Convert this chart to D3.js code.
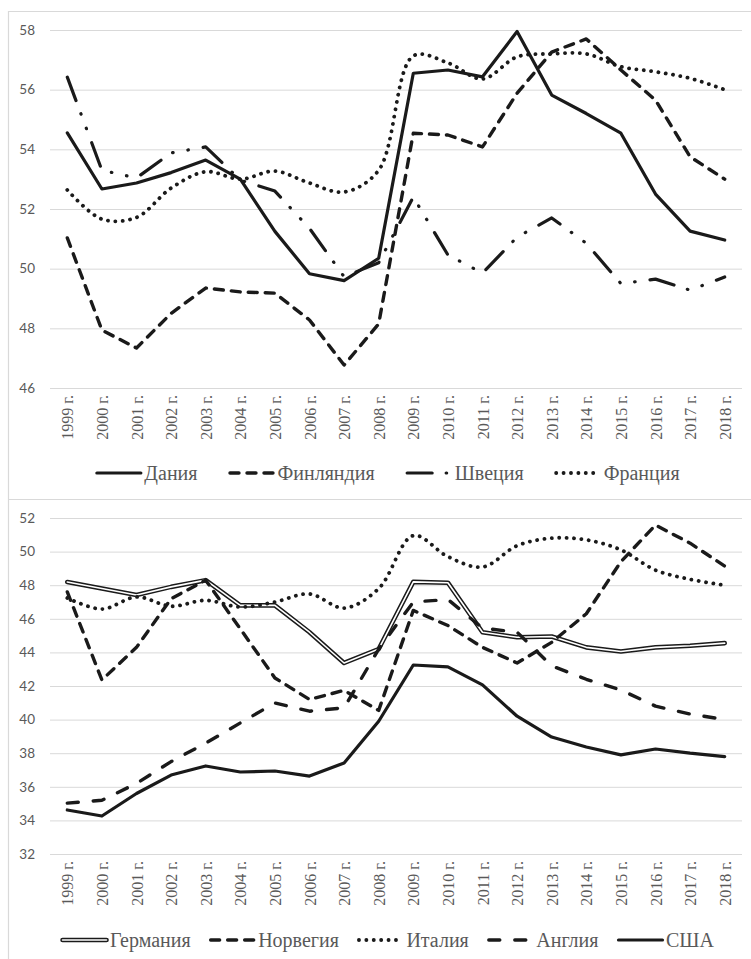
<!DOCTYPE html>
<html>
<head>
<meta charset="utf-8">
<script src="https://cdn.jsdelivr.net/npm/d3@7"></script>
<style>
body { margin: 0; background: #fff; }
svg { display: block; }
.grid line { stroke: #d9d9d9; stroke-width: 1; }
.grid .domain { display: none; }
.grid text { font-family: Lato, "Open Sans", sans-serif; font-size: 13.5px; fill: #595959; }
.xlab .domain { display: none; }
.xlab text { font-family: "Liberation Serif", "DejaVu Serif", serif; font-size: 16px; fill: #595959; }
.legend text { font-family: "Liberation Serif", "DejaVu Serif", serif; font-size: 20px; fill: #595959; }
</style>
</head>
<body>
<div class="chart"></div>
<script>
var years = ["1999 г.","2000 г.","2001 г.","2002 г.","2003 г.","2004 г.","2005 г.","2006 г.","2007 г.","2008 г.",
	"2009 г.","2010 г.","2011 г.","2012 г.","2013 г.","2014 г.","2015 г.","2016 г.","2017 г.","2018 г."];

// top panel
var denmark = [54.55,52.67,52.87,53.22,53.64,53.0,51.25,49.83,49.6,50.35,56.55,56.66,56.43,57.95,55.82,55.2,54.54,52.5,51.26,50.96];
var finland = [51.03,47.94,47.34,48.5,49.35,49.22,49.18,48.28,46.77,48.15,54.54,54.48,54.08,55.88,57.26,57.7,56.66,55.65,53.75,53.0];
var sweden = [56.42,53.3,53.04,53.88,54.08,52.97,52.6,51.35,49.73,50.2,52.4,50.46,49.85,51.06,51.7,50.85,49.5,49.65,49.28,49.72];
var france = [52.64,51.66,51.72,52.7,53.25,53.0,53.27,52.87,52.57,53.3,57.13,56.9,56.36,57.1,57.2,57.2,56.77,56.6,56.38,56.0];
var topTicks = [46,48,50,52,54,56,58];

// bottom panel
var germany = [48.19,47.8,47.42,47.9,48.3,46.8,46.8,45.2,43.37,44.2,48.2,48.15,45.2,44.9,44.95,44.3,44.05,44.3,44.4,44.55];
var norway = [47.6,42.36,44.3,47.2,48.3,45.4,42.48,41.2,41.74,40.55,46.5,45.6,44.3,43.37,44.6,46.3,49.4,51.58,50.5,49.14];
var italy = [47.24,46.58,47.3,46.75,47.1,46.7,47.0,47.48,46.64,47.8,50.95,49.7,49.08,50.35,50.8,50.7,50.1,48.9,48.35,48.0];
var uk = [35.03,35.2,36.2,37.5,38.6,39.8,40.99,40.5,40.7,44.2,47.0,47.15,45.45,45.2,43.2,42.4,41.76,40.8,40.33,40.0];
var usa = [34.62,34.26,35.6,36.7,37.24,36.88,36.94,36.64,37.42,39.9,43.25,43.14,42.07,40.2,38.96,38.37,37.9,38.25,38.0,37.8];
var bottomTicks = [32,34,36,38,40,42,44,46,48,50,52];

var styles = {
	solid: {dash: null, width: 3.2},
	dash: {dash: "9,8", width: 3.4},
	longdash: {dash: "11,15", width: 3.4},
	dashdot: {dash: "25,14,0.5,15,0.5,15", width: 3.2},
	dot: {dash: "0.1,7.3", width: 3.8, smooth: true},
	double: {dash: null, width: 4.6, double: true}
};

var topSeries = [
	{name: "Дания", values: denmark, style: "solid"},
	{name: "Финляндия", values: finland, style: "dash"},
	{name: "Швеция", values: sweden, style: "dashdot"},
	{name: "Франция", values: france, style: "dot"}
];
var bottomSeries = [
	{name: "Германия", values: germany, style: "double"},
	{name: "Норвегия", values: norway, style: "dash"},
	{name: "Италия", values: italy, style: "dot"},
	{name: "Англия", values: uk, style: "longdash"},
	{name: "США", values: usa, style: "solid"}
];

var W = 751, H = 959;
var svg = d3.select(".chart").append("svg").attr("width", W).attr("height", H);

// frames
svg.append("path")
	.attr("d", "M751,11.5H8.5V959M8.5,499.5H751")
	.attr("fill", "none").attr("stroke", "#d9d9d9").attr("stroke-width", 1.2);

var x = d3.scalePoint().domain(years).range([50, 742]).padding(0.5);

function styleLine(path, st, color) {
	path.attr("fill", "none")
		.attr("stroke", color)
		.attr("stroke-width", st.width)
		.attr("stroke-linecap", "round")
		.attr("stroke-linejoin", "round")
		.attr("stroke-dasharray", st.dash);
}

function drawPanel(series, ticks, yTop, yBottom, legendY, gap) {
	var y = d3.scaleLinear().domain(d3.extent(ticks)).range([yBottom, yTop]);
	var g = svg.append("g");

	g.append("g").attr("class", "grid")
		.attr("transform", "translate(50,0)")
		.call(d3.axisLeft(y).tickValues(ticks).tickSize(-692).tickPadding(15).tickFormat(d3.format("d")));

	var xa = g.append("g").attr("class", "xlab")
		.attr("transform", "translate(0," + yBottom + ")")
		.call(d3.axisBottom(x).tickSize(0));
	xa.selectAll("text")
		.attr("transform", "rotate(-90)")
		.attr("text-anchor", "end")
		.attr("x", -7)
		.attr("y", 0)
		.attr("dy", "0.35em");

	series.forEach(function(s) {
		var st = styles[s.style];
		var line = d3.line()
			.x(function(d, i) { return x(years[i]); })
			.y(function(d) { return y(d); })
			.curve(st.smooth ? d3.curveCatmullRom.alpha(0.5) : d3.curveLinear);
		styleLine(g.append("path").attr("d", line(s.values)), st, "#1a1a1a");
		if (st.double) {
			styleLine(g.append("path").attr("d", line(s.values)), {dash: null, width: 1.6}, "#fff");
		}
	});

	// legend
	var lg = g.append("g").attr("class", "legend");
	var items = lg.selectAll("g").data(series).enter().append("g");
	items.append("text")
		.attr("x", 49)
		.attr("dy", "0.35em")
		.text(function(d) { return d.name; });
	var offs = 0, pos = [];
	items.each(function(d) {
		pos.push(offs);
		offs += 49 + this.querySelector("text").getComputedTextLength() + gap;
	});
	var total = offs - gap;
	var start = 387.5 - total / 2;
	items.attr("transform", function(d, i) { return "translate(" + (start + pos[i]) + "," + legendY + ")"; });
	items.each(function(d) {
		var st = styles[d.style];
		var sel = d3.select(this);
		styleLine(sel.append("path").attr("d", "M1.5,0H45.5"), st, "#1a1a1a");
		if (st.double) styleLine(sel.append("path").attr("d", "M1.5,0H45.5"), {dash: null, width: 1.6}, "#fff");
	});
}

drawPanel(topSeries, topTicks, 30, 388, 473, 31);
drawPanel(bottomSeries, bottomTicks, 518, 854, 940, 18.5);
</script>
</body>
</html>
